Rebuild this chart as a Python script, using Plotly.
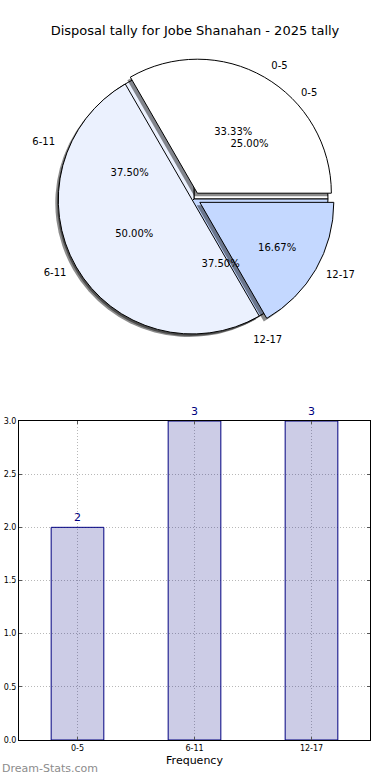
import plotly.graph_objects as go

# ---- data ----
title_text = "Disposal tally for Jobe Shanahan - 2025 tally"
categories = ["0-5", "6-11", "12-17"]
pie_a_values = [2, 3, 1]        # 33.33%, 50.00%, 16.67%
pie_b_values = [2, 3, 3]        # 25.00%, 37.50%, 37.50%
bar_values = [2, 3, 3]
y_ticks = [0.0, 0.5, 1.0, 1.5, 2.0, 2.5, 3.0]

# ---- styles ----
W, H = 390, 780
pie_colors = ["#ffffff", "#ebf1fe", "#c4d8ff"]
pull_a = [0.05, 0.015, 0.05]
cx, cy, R = 194, 199, 134  # pie centre (px) and radius (px)


def dom(cx_px, cy_px, half):
    return dict(x=[(cx_px - half) / W, (cx_px + half) / W],
                y=[1 - (cy_px + half) / H, 1 - (cy_px - half) / H])


def start_at_three(values):
    # plotly counterclockwise: rotation marks boundary between slice 1 and 2
    return 90 - 360 * values[0] / sum(values)


maxp = max(pull_a)
common = dict(labels=categories, sort=False, direction="counterclockwise",
              showlegend=False, hoverinfo="skip")
rot_a = start_at_three(pie_a_values)
rot_b = start_at_three(pie_b_values)
font10 = dict(family="DejaVu Sans", size=10, color="black")
clear = dict(colors=["rgba(0,0,0,0)"] * 3, line=dict(width=0))
shade = dict(colors=["rgba(0,0,0,0.45)"] * 3, line=dict(width=0))

fig = go.Figure()
# shadow of pie B
fig.add_trace(go.Pie(values=pie_b_values, rotation=rot_b, domain=dom(cx - 3, cy + 3, R), **common,
                     marker=shade, textinfo="none"))
# pie B
fig.add_trace(go.Pie(values=pie_b_values, rotation=rot_b, domain=dom(cx, cy, R), **common,
                     marker=dict(colors=pie_colors, line=dict(color="black", width=1)),
                     textinfo="none"))
# shadow of pie A
fig.add_trace(go.Pie(values=pie_a_values, rotation=rot_a, pull=pull_a,
                     domain=dom(cx - 3, cy + 3, R * (1 + maxp)), **common,
                     marker=shade, textinfo="none"))
# pie A
fig.add_trace(go.Pie(values=pie_a_values, rotation=rot_a, pull=pull_a,
                     domain=dom(cx, cy, R * (1 + maxp)), **common,
                     marker=dict(colors=pie_colors, line=dict(color="black", width=1)),
                     texttemplate="%{percent:.2%}", textposition="inside",
                     insidetextorientation="horizontal", insidetextfont=font10))
# labels of pie A (transparent, slightly larger radius)
fig.add_trace(go.Pie(values=pie_a_values, rotation=rot_a, pull=pull_a,
                     domain=dom(cx, cy, R * 1.06 * (1 + maxp)), **common,
                     marker=clear, textinfo="label", textposition="outside",
                     outsidetextfont=font10))
# labels of pie B (transparent, larger radius)
fig.add_trace(go.Pie(values=pie_b_values, rotation=rot_b,
                     domain=dom(cx, cy, R * 1.1), **common,
                     marker=clear, textinfo="label", textposition="outside",
                     outsidetextfont=font10))
# percentages of pie B on top (transparent)
fig.add_trace(go.Pie(values=pie_b_values, rotation=rot_b, domain=dom(cx, cy, R), **common,
                     marker=clear, texttemplate="%{percent:.2%}", textposition="inside",
                     insidetextorientation="horizontal", insidetextfont=font10))

# bar chart
fig.add_trace(go.Bar(x=categories, y=bar_values, width=0.45,
                     marker=dict(color="rgba(0,0,128,0.2)", line=dict(color="#000080", width=1)),
                     text=[str(v) for v in bar_values], textposition="outside",
                     textfont=dict(family="DejaVu Sans", size=11, color="#000080"),
                     cliponaxis=False, showlegend=False, hoverinfo="skip"))

grid_style = dict(showgrid=True, gridcolor="#b8b8b8", griddash="1px,2px", gridwidth=1)
axis_style = dict(showline=True, mirror="ticks", automargin=False, linecolor="black",
                  linewidth=1, ticks="inside", ticklen=3, tickcolor="#555555",
                  tickfont=dict(size=8), zeroline=False)

fig.update_layout(
    width=W, height=H,
    margin=dict(l=0, r=0, t=0, b=0),
    paper_bgcolor="white", plot_bgcolor="white",
    font=dict(family="DejaVu Sans", color="black"),
    title=dict(text=title_text, x=0.5, xanchor="center", y=1 - 30 / H, yanchor="middle",
               font=dict(family="DejaVu Sans", size=13, color="black")),
    xaxis=dict(domain=[19 / W, 370 / W], range=[-0.5, 2.5],
               title=dict(text="Frequency", font=dict(size=11), standoff=4),
               **grid_style, **axis_style),
    yaxis=dict(domain=[40 / H, 359 / H], range=[0, 3], tickvals=y_ticks, tickformat=".1f",
               **grid_style, **axis_style),
    bargap=0,
    annotations=[dict(text="Dream-Stats.com", x=0, y=0, xref="paper", yref="paper",
                      xanchor="left", yanchor="bottom", yshift=3, showarrow=False,
                      font=dict(family="DejaVu Sans", size=11, color="#8c8c8c"))],
)

fig.write_html("out.html", config={"displayModeBar": False, "staticPlot": True},
               post_script="document.body.style.margin='0';")
